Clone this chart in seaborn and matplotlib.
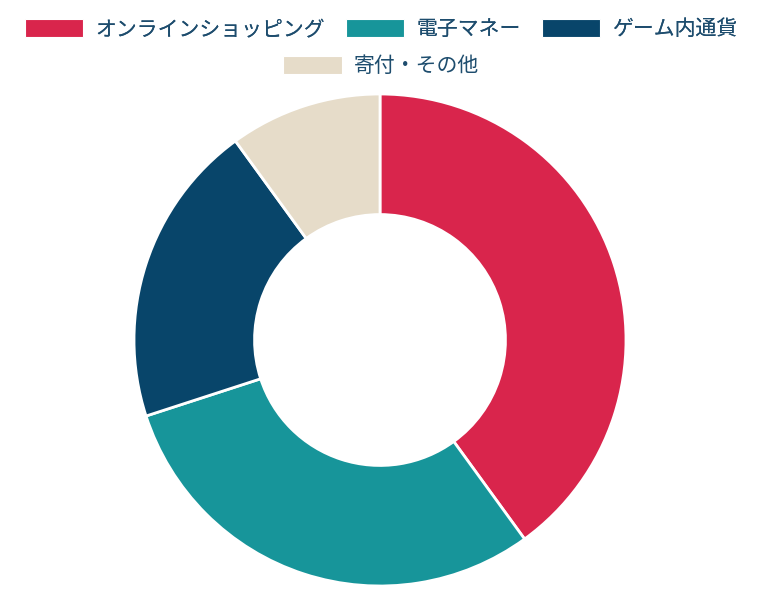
import matplotlib
matplotlib.use("Agg")
import matplotlib.pyplot as plt
import matplotlib.patches as mpatches
import seaborn as sns

# data
labels = ['オンラインショッピング', '電子マネー', 'ゲーム内通貨', '寄付・その他']
shares = [40, 30, 20, 10]
colors = ['#D9254C', '#17959A', '#08456A', '#E6DCC9']
text_color = '#1E4D6E'

sns.set_theme(style='white')
plt.rcParams['font.family'] = ['Noto Sans CJK JP', 'DejaVu Sans']

fig = plt.figure(figsize=(7.63, 6.00), dpi=100)
ax = fig.add_axes([134 / 763, 14 / 600, 492 / 763, 492 / 600])

ax.pie(shares, colors=colors, startangle=90, counterclock=False,
       wedgeprops=dict(width=0.49, edgecolor='white', linewidth=2))
ax.set_xlim(-1, 1)
ax.set_ylim(-1, 1)
ax.set_aspect('equal')
ax.axis('off')

handles = [mpatches.Patch(facecolor=c, edgecolor='white', linewidth=0.8) for c in colors]
leg_kw = dict(frameon=False, fontsize=15, handlelength=2.8, handleheight=1.0,
              handletextpad=0.6, columnspacing=1.0, borderpad=0, labelcolor=text_color)

leg1 = fig.legend(handles[:3], labels[:3], loc='center', ncol=3,
                  bbox_to_anchor=(0.5, 1 - 29 / 600), **leg_kw)
fig.add_artist(leg1)
fig.legend(handles[3:], labels[3:], loc='center', ncol=1,
           bbox_to_anchor=(0.5, 1 - 66 / 600), **leg_kw)

fig.savefig('out.png', dpi=100, facecolor='white')
